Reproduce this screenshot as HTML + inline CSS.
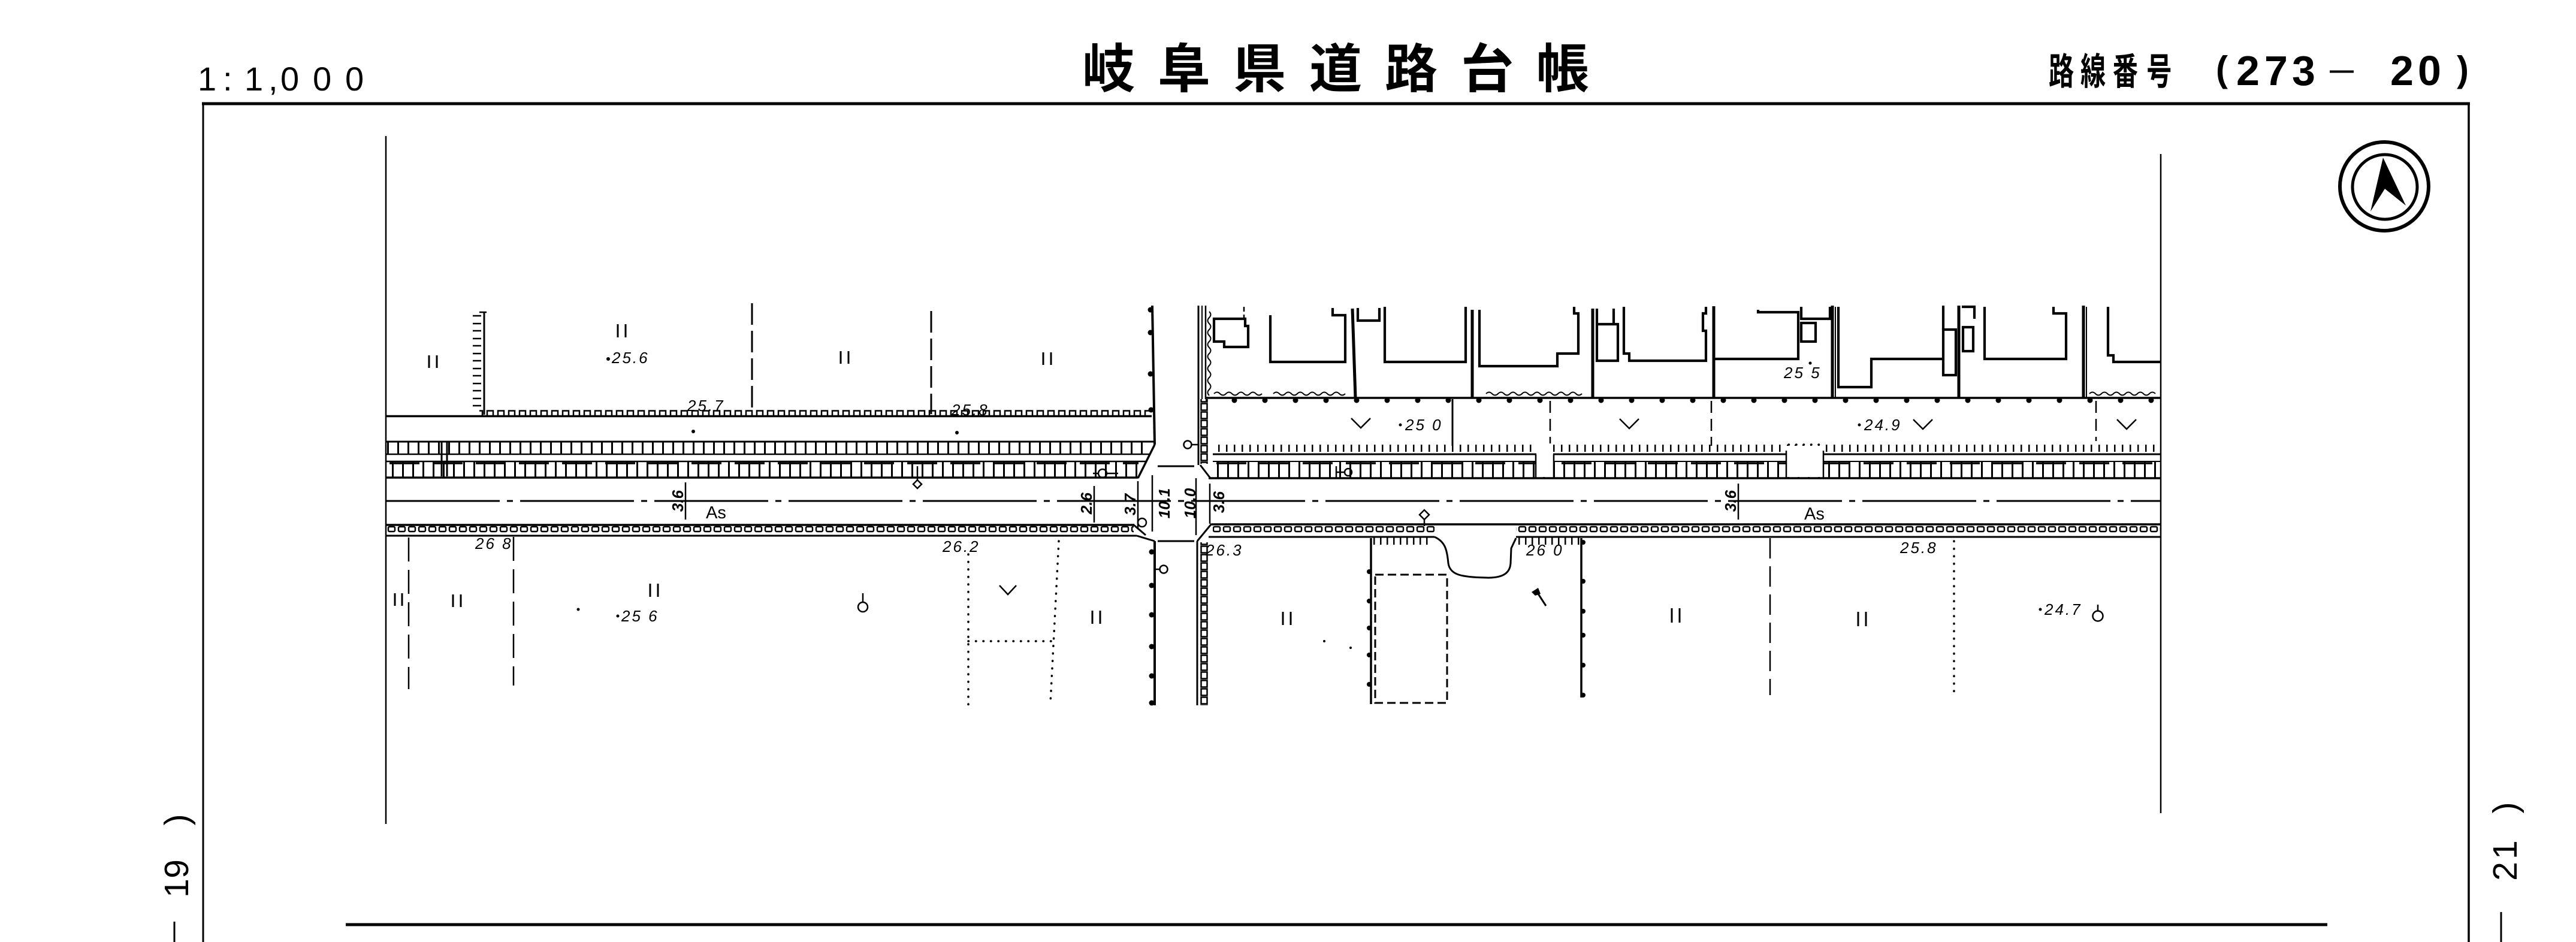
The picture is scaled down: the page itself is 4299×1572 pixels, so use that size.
<!DOCTYPE html>
<html><head><meta charset="utf-8"><title>岐阜県道路台帳</title>
<style>
html,body{margin:0;padding:0;background:#fff;width:4299px;height:1572px;overflow:hidden;}
svg{display:block;}
text{font-family:"Liberation Sans","Noto Sans CJK JP",sans-serif;fill:#000;stroke:none;}
.n{font-style:italic;font-size:26px;letter-spacing:3px;}
.d{font-style:italic;font-size:26px;font-weight:bold;}
</style></head><body>
<svg width="4299" height="1572" viewBox="0 0 4299 1572" xmlns="http://www.w3.org/2000/svg">
<defs>
 <pattern id="pA" x="0" y="737" width="17" height="21" patternUnits="userSpaceOnUse"><rect x="0" y="0" width="3" height="21" fill="#000"/></pattern>
 <pattern id="pB" x="8" y="770" width="17" height="27" patternUnits="userSpaceOnUse"><rect x="0" y="0" width="3" height="27" fill="#000"/></pattern>
 <pattern id="pC" x="0" y="877" width="17" height="13" patternUnits="userSpaceOnUse"><rect x="2" y="2" width="11" height="8" rx="2" fill="none" stroke="#000" stroke-width="2.5"/></pattern>
 <pattern id="pD" x="0" y="684" width="18" height="10" patternUnits="userSpaceOnUse"><path d="M3,10 V1.5 H13 V10" fill="none" stroke="#000" stroke-width="2.5"/></pattern>
 <pattern id="pE" x="0" y="742" width="13" height="14" patternUnits="userSpaceOnUse"><rect x="5" y="0" width="2.5" height="12" fill="#000"/></pattern>
 <pattern id="pF" x="0" y="897" width="11" height="14" patternUnits="userSpaceOnUse"><rect x="4" y="0" width="2.5" height="12" fill="#000"/></pattern>
 <pattern id="pG" x="2003" y="0" width="13" height="14" patternUnits="userSpaceOnUse"><rect x="1.5" y="1.5" width="10" height="11" fill="none" stroke="#000" stroke-width="2.5"/></pattern>
 <pattern id="pH" x="2136.5" y="664" width="51" height="10" patternUnits="userSpaceOnUse"><circle cx="25.5" cy="4" r="4.5" fill="#000"/></pattern>
</defs>

<!-- Header text -->
<text x="330 372 408 448 468 522 576" y="151" font-size="56">1:1,000</text>
<text x="1806 1932 2058 2185 2311 2438 2564" y="146" font-size="88" font-weight="bold">岐阜県道路台帳</text>
<text transform="translate(3419,141) scale(0.68,1)" x="0 78 157 240" y="0" font-size="62" font-weight="bold">路線番号</text>
<text x="3698" y="136" font-size="60" font-weight="bold">(</text>
<text x="3732 3779 3825" y="142" font-size="70" font-weight="bold">273</text>
<text x="3888" y="130" font-size="40" font-weight="bold">—</text>
<text x="3989 4035" y="142" font-size="70" font-weight="bold">20</text>
<text x="4100" y="136" font-size="60" font-weight="bold">)</text>

<!-- Frame -->
<g stroke="#000" fill="none">
 <line x1="337" y1="173" x2="4122" y2="173" stroke-width="5"/>
 <line x1="339" y1="171" x2="339" y2="1572" stroke-width="3"/>
 <line x1="4120" y1="171" x2="4120" y2="1572" stroke-width="3.5"/>
 <line x1="644" y1="227" x2="644" y2="1375" stroke-width="2.5"/>
 <line x1="3606" y1="257" x2="3606" y2="1357" stroke-width="2.5"/>
 <line x1="577" y1="1543" x2="3884" y2="1543" stroke-width="5"/>
 <line x1="291" y1="1538" x2="291" y2="1572" stroke-width="3"/>
 <line x1="4174" y1="1522" x2="4174" y2="1572" stroke-width="3"/>
</g>

<!-- Side labels (rotated) -->
<g font-size="57">
 <text transform="translate(314,1368) rotate(-90)" text-anchor="middle">)</text>
 <text transform="translate(314,1450) rotate(-90)" text-anchor="middle">9</text>
 <text transform="translate(314,1498) rotate(-90)">1</text>
 <text transform="translate(4200,1348) rotate(-90)" text-anchor="middle">)</text>
 <text transform="translate(4200,1434) rotate(-90)">1</text>
 <text transform="translate(4200,1454) rotate(-90)" text-anchor="middle">2</text>
</g>

<!-- North arrow -->
<g stroke="#000" fill="none">
 <circle cx="3979" cy="311" r="74" stroke-width="6"/>
 <circle cx="3980" cy="312" r="54" stroke-width="5"/>
</g>
<polygon points="3977,263 3956,353 3980,315 4015,343" fill="#000"/>

<!-- MAP -->
<g stroke="#000" fill="none" stroke-width="3">

 <!-- West north lots -->
 <line x1="808" y1="521" x2="808" y2="692" stroke-width="3"/>
 <path d="M800,521 h12 M789,527 h14 M789,540 h14 M789,552 h14 M789,565 h14 M789,577 h14 M789,590 h14 M789,602 h14 M789,615 h14 M789,627 h14 M789,640 h14 M789,652 h14 M789,665 h14 M789,677 h14" stroke-width="2.5"/>
 <line x1="1255" y1="506" x2="1255" y2="686" stroke-dasharray="36 10"/>
 <line x1="1554" y1="519" x2="1554" y2="691" stroke-dasharray="36 10"/>
 <line x1="644" y1="694.5" x2="1922" y2="694.5" stroke-width="3.5"/>
 <rect x="800" y="684" width="1118" height="10" fill="url(#pD)" stroke="none"/>

 <!-- West north sidewalk -->
 <rect x="644" y="737" width="1272" height="21" fill="url(#pA)" stroke="none"/>
 <rect x="644" y="770" width="1256" height="27" fill="url(#pB)" stroke="none"/>
 <line x1="644" y1="737" x2="1925" y2="737"/>
 <line x1="644" y1="758" x2="1918" y2="758" stroke-width="2.5"/>
 <line x1="644" y1="770" x2="1912" y2="770" stroke-width="2.5"/>
 <line x1="650" y1="773" x2="1900" y2="773" stroke-width="3.5" stroke-dasharray="50 22"/>
 <line x1="644" y1="797" x2="1899" y2="797" stroke-width="3.5"/>
 <line x1="737" y1="737" x2="737" y2="795"/>
 <line x1="746" y1="737" x2="746" y2="795"/>
 <line x1="1927" y1="742" x2="1899" y2="798" stroke-width="3.5"/>

 <!-- Center line -->
 <line x1="644" y1="836" x2="3606" y2="836" stroke-dasharray="190 12 10 12"/>

 <!-- West south curb -->
 <line x1="644" y1="876" x2="1893" y2="876" stroke-width="3.5"/>
 <rect x="644" y="877" width="1248" height="13" fill="url(#pC)" stroke="none"/>
 <line x1="644" y1="894" x2="1897" y2="894"/>
 <line x1="1897" y1="894" x2="1927" y2="903"/>
 <line x1="1892" y1="876" x2="1912" y2="893"/>
 <circle cx="1906" cy="872" r="7" stroke-width="2.5"/>

 <!-- Crossroad -->
 <path d="M1923,510 L1927,742" stroke-width="4"/>
 <path d="M1927,903 V1177" stroke-width="4"/>
 <g fill="#000" stroke="none">
  <circle cx="1920" cy="517" r="4.5"/><circle cx="1920" cy="555" r="4.5"/><circle cx="1920" cy="624" r="4.5"/><circle cx="1921" cy="684" r="4.5"/>
  <circle cx="1922" cy="921" r="4.5"/><circle cx="1922" cy="977" r="4.5"/><circle cx="1922" cy="1026" r="4.5"/><circle cx="1922" cy="1079" r="4.5"/><circle cx="1922" cy="1128" r="4.5"/><circle cx="1922" cy="1173" r="4.5"/>
 </g>
 <line x1="1932" y1="778" x2="1993" y2="778"/>
 <line x1="1932" y1="903" x2="1993" y2="903"/>
 <line x1="2000" y1="510" x2="2000" y2="776"/>
 <line x1="2006" y1="510" x2="2006" y2="666" stroke-width="2"/>
 <line x1="2012" y1="510" x2="2012" y2="666" stroke-width="2.5"/>
 <rect x="2003" y="666" width="13" height="108" fill="url(#pG)" stroke="none"/>
 <line x1="2003" y1="776" x2="2020" y2="798"/>
 <circle cx="1982" cy="742" r="6.5" stroke-width="2.5"/>
 <line x1="1989" y1="742" x2="2000" y2="742" stroke-width="2.5"/>
 <line x1="2022" y1="874" x2="1998" y2="903"/>
 <line x1="1998" y1="903" x2="1998" y2="1177"/>
 <rect x="2003" y="905" width="13" height="272" fill="url(#pG)" stroke="none"/>
 <circle cx="1942" cy="950" r="6.5" stroke-width="2.5"/>
 <line x1="1927" y1="950" x2="1936" y2="950" stroke-width="2.5"/>

 <!-- Dimension lines -->
 <g stroke-width="2.5">
  <line x1="1144" y1="805" x2="1144" y2="867"/>
  <line x1="1826" y1="811" x2="1826" y2="872"/>
  <line x1="1899" y1="803" x2="1899" y2="883"/>
  <line x1="1923" y1="793" x2="1923" y2="887"/>
  <line x1="1996" y1="798" x2="1996" y2="893"/>
  <line x1="2019" y1="807" x2="2019" y2="874"/>
  <line x1="2901" y1="807" x2="2901" y2="867"/>
 </g>

 <!-- Symbols west -->
 <line x1="1531" y1="778" x2="1531" y2="801" stroke-width="2.5"/>
 <path d="M1531,801 l7,7 l-7,7 l-7,-7 z" stroke-width="2.5"/>
 <circle cx="1840" cy="790" r="7" stroke-width="2.5"/>
 <line x1="1824" y1="790" x2="1833" y2="790" stroke-width="2.5"/>
 <line x1="1847" y1="790" x2="1866" y2="790" stroke-width="2.5"/>
 <circle cx="1440" cy="1013" r="8" stroke-width="2.5"/>
 <line x1="1440" y1="990" x2="1440" y2="1005" stroke-width="2.5"/>

 <!-- West south lots -->
 <line x1="682" y1="897" x2="682" y2="1150" stroke-width="2.5" stroke-dasharray="40 14"/>
 <line x1="857" y1="896" x2="857" y2="1144" stroke-width="2.5" stroke-dasharray="40 14"/>
 <g stroke-width="3.5" stroke-linecap="round" stroke-dasharray="0.5 12">
  <line x1="1616" y1="925" x2="1616" y2="1177"/>
  <line x1="1767" y1="903" x2="1753" y2="1173"/>
  <line x1="1616" y1="1070" x2="1755" y2="1070"/>
  <line x1="3261" y1="903" x2="3261" y2="1160"/>
  <line x1="2985" y1="742" x2="3040" y2="742"/>
 </g>
 <path d="M1668,977 L1682,992 L1696,977" stroke-width="2.5"/>

 <!-- "||" marks -->
 <path stroke-width="3" d="M716,593 v21 M729,593 v21 M1031,541 v22 M1044,541 v22 M1403,586 v21 M1416,586 v21 M1741,588 v21 M1754,588 v21 M659,990 v21 M671,990 v21 M756,992 v21 M769,992 v21 M1085,974 v22 M1098,974 v22 M1823,1019 v22 M1836,1019 v22 M2141,1021 v22 M2154,1021 v22 M2790,1015 v24 M2803,1015 v24 M3101,1021 v24 M3114,1021 v24"/>

 <!-- East north lots: buildings -->
 <g stroke-width="4.2">
  <path d="M2026,532 H2078 V544 H2083 V579 H2043 V570 H2026 Z"/>
  <path d="M2120,526 V604 H2245 V526 H2224 V514"/>
  <path d="M2266,514 V535 H2302 V514"/>
  <path d="M2311,512 V604 H2446 V512"/>
  <path d="M2469,517 V611 H2599 V590 H2634 V523 H2627 V512"/>
  <path d="M2665,515 V602 H2700 V541 H2665 M2693,515 V541"/>
  <path d="M2710,512 V590 H2719 V602 H2847 V552 H2842 V523 H2847 V512"/>
  <path d="M2934,517 V521 H3001 V599 H2862"/>
  <path d="M3006,512 V532 H3054 V512"/>
  <rect x="3006" y="539" width="24" height="31"/>
  <path d="M3068,512 V646 H3123 V599 H3243"/>
  <rect x="3243" y="550" width="21" height="76"/>
  <path d="M3243,510 V550"/>
  <path d="M3274,512 H3295 V532"/>
  <rect x="3276" y="546" width="17" height="40"/>
  <path d="M3312,512 V599 H3448 V523 H3427 V512"/>
  <path d="M3518,512 V593 H3527 V604 H3606"/>
 </g>
 <line x1="2076" y1="512" x2="2076" y2="532" stroke-width="2.5" stroke-dasharray="8 5"/>
 <g stroke-width="5">
  <line x1="2257" y1="515" x2="2262" y2="664"/>
  <line x1="2457" y1="517" x2="2457" y2="664"/>
  <line x1="2658" y1="515" x2="2658" y2="664"/>
  <line x1="2860" y1="511" x2="2860" y2="664"/>
  <line x1="3058" y1="510" x2="3058" y2="664"/>
  <line x1="3269" y1="510" x2="3269" y2="664"/>
  <line x1="3477" y1="510" x2="3477" y2="664"/>
 </g>
 <line x1="3063" y1="512" x2="3063" y2="664" stroke-width="2"/>
 <line x1="3482" y1="512" x2="3482" y2="664" stroke-width="2"/>
 <g stroke-width="2">
  <path d="M2026,657 q5,-5 10,0 t10,0 t10,0 t10,0 t10,0 t10,0 t10,0 t10,0"/>
  <path d="M2125,657 q5,-5 10,0 t10,0 t10,0 t10,0 t10,0 t10,0 t10,0 t10,0 t10,0 t10,0 t10,0 t10,0"/>
  <path d="M2480,657 q5,-5 10,0 t10,0 t10,0 t10,0 t10,0 t10,0 t10,0 t10,0 t10,0 t10,0 t10,0 t10,0 t10,0 t10,0 t10,0 t10,0"/>
  <path d="M3487,657 q5,-5 10,0 t10,0 t10,0 t10,0 t10,0 t10,0 t10,0 t10,0 t10,0 t10,0 t10,0"/>
  <path d="M2018,520 q5,5 0,10 t0,10 t0,10 t0,10 t0,10 t0,10 t0,10 t0,10 t0,10 t0,10 t0,10 t0,10 t0,10 t0,10"/>
 </g>
 <line x1="2012" y1="664" x2="3606" y2="664" stroke-width="3.5"/>
 <rect x="2012" y="664" width="1594" height="10" fill="url(#pH)" stroke="none"/>

 <!-- Lot area east -->
 <line x1="2424" y1="666" x2="2424" y2="744"/>
 <g stroke-width="2.5" stroke-dasharray="20 10">
  <line x1="2587" y1="669" x2="2587" y2="744"/>
  <line x1="2856" y1="669" x2="2856" y2="744"/>
  <line x1="3498" y1="669" x2="3498" y2="736"/>
 </g>
 <g stroke-width="2.5">
  <path d="M2255,698 L2271,714 L2287,698"/>
  <path d="M2703,699 L2719,715 L2735,699"/>
  <path d="M3193,700 L3209,716 L3225,700"/>
  <path d="M3533,700 L3549,716 L3565,700"/>
 </g>

 <!-- East north sidewalk -->
 <rect x="2024" y="742" width="1582" height="14" fill="url(#pE)" stroke="none"/>
 <rect x="2020" y="770" width="1586" height="27" fill="url(#pB)" stroke="none"/>
 <line x1="2024" y1="758" x2="3606" y2="758"/>
 <line x1="2024" y1="770" x2="3606" y2="770" stroke-width="2"/>
 <line x1="2030" y1="773" x2="3606" y2="773" stroke-width="3.5" stroke-dasharray="50 22"/>
 <line x1="2017" y1="798" x2="3606" y2="798" stroke-width="3.5"/>
 <rect x="2564" y="740" width="28" height="56" fill="#fff" stroke="none"/>
 <rect x="2982" y="744" width="60" height="52" fill="#fff" stroke="none"/>
 <line x1="2563" y1="758" x2="2563" y2="797" stroke-width="2.5"/>
 <line x1="2593" y1="758" x2="2593" y2="797" stroke-width="2.5"/>
 <line x1="2981" y1="752" x2="2981" y2="797" stroke-width="2.5"/>
 <line x1="3043" y1="752" x2="3043" y2="797" stroke-width="2.5"/>
 <circle cx="2250" cy="788" r="6" stroke-width="2.5"/>
 <line x1="2230" y1="788" x2="2244" y2="788" stroke-width="2.5"/>
 <line x1="2230" y1="778" x2="2230" y2="797" stroke-width="2.5"/>

 <!-- East south curb -->
 <line x1="2022" y1="875" x2="3606" y2="875" stroke-width="3.5"/>
 <rect x="2024" y="877" width="370" height="13" fill="url(#pC)" stroke="none"/>
 <rect x="2530" y="877" width="1076" height="13" fill="url(#pC)" stroke="none"/>
 <line x1="2017" y1="896" x2="2394" y2="896"/>
 <line x1="2530" y1="896" x2="3606" y2="896"/>
 <path d="M2394,896 C2412,904 2415,918 2417,940 C2420,960 2440,963 2480,964 C2510,965 2520,955 2521,940 L2522,915 L2530,898"/>
 <rect x="2288" y="897" width="103" height="13" fill="url(#pF)" stroke="none"/>
 <rect x="2526" y="897" width="113" height="13" fill="url(#pF)" stroke="none"/>
 <line x1="2377" y1="867" x2="2377" y2="878" stroke-width="2.5"/>
 <path d="M2377,851 l8,8 l-8,8 l-8,-8 z" stroke-width="2.5"/>

 <!-- East south lots -->
 <line x1="2288" y1="898" x2="2288" y2="1175" stroke-width="3.5"/>
 <rect x="2295" y="959" width="120" height="214" stroke-dasharray="14 7"/>
 <line x1="2639" y1="898" x2="2639" y2="1164" stroke-width="3.5"/>
 <g fill="#000" stroke="none">
  <circle cx="2285" cy="954" r="4"/><circle cx="2285" cy="1003" r="4"/><circle cx="2285" cy="1048" r="4"/><circle cx="2285" cy="1093" r="4"/><circle cx="2285" cy="1142" r="4"/>
  <circle cx="2642" cy="905" r="4"/><circle cx="2642" cy="970" r="4"/><circle cx="2642" cy="1020" r="4"/><circle cx="2642" cy="1060" r="4"/><circle cx="2642" cy="1110" r="4"/><circle cx="2642" cy="1160" r="4"/>
  <path d="M2556,988 L2567,981 L2571,991 L2562,994 Z"/>
  <circle cx="1157" cy="720" r="3"/><circle cx="1597" cy="722" r="3"/>
  <circle cx="965" cy="1017" r="2.5"/><circle cx="2210" cy="1070" r="2"/><circle cx="2254" cy="1081" r="2"/>
 </g>
 <line x1="2565" y1="988" x2="2580" y2="1011" stroke-width="3"/>
 <line x1="2954" y1="898" x2="2954" y2="1160" stroke-width="2.5" stroke-dasharray="34 13"/>
 <circle cx="3501" cy="1028" r="8.5" stroke-width="2.5"/>
 <line x1="3501" y1="1009" x2="3501" y2="1019" stroke-width="2.5"/>
</g>

<!-- Map labels -->
<g>
 <circle cx="1015" cy="599" r="3" fill="#000"/>
 <text class="n" x="1021" y="606">25.6</text>
 <text class="n" x="1147" y="686">25.7</text>
 <text class="n" x="1588" y="693">25.8</text>
 <text class="n" x="793" y="916">26 8</text>
 <circle cx="1031" cy="1028" r="2.5" fill="#000"/>
 <text class="n" x="1037" y="1037">25 6</text>
 <text class="n" x="1573" y="921">26.2</text>
 <text class="n" x="2012" y="927">26.3</text>
 <text class="n" x="2547" y="927">26 0</text>
 <text class="n" x="3171" y="923">25.8</text>
 <circle cx="3405" cy="1017" r="2.5" fill="#000"/>
 <text class="n" x="3412" y="1026">24.7</text>
 <circle cx="2337" cy="709" r="2.5" fill="#000"/>
 <text class="n" x="2345" y="718">25 0</text>
 <circle cx="3103" cy="709" r="2.5" fill="#000"/>
 <text class="n" x="3111" y="718">24.9</text>
 <text class="n" x="2977" y="631">25 5</text>
 <circle cx="3021" cy="606" r="2.5" fill="#000"/>
 <text x="1178" y="865" font-size="29">As</text>
 <text x="3011" y="867" font-size="29">As</text>
 <text class="d" transform="translate(1140,836) rotate(-90)" text-anchor="middle">3.6</text>
 <text class="d" transform="translate(1822,840) rotate(-90)" text-anchor="middle">2.6</text>
 <text class="d" transform="translate(1895,842) rotate(-90)" text-anchor="middle">3.7</text>
 <text class="d" transform="translate(1952,840) rotate(-90)" text-anchor="middle">10.1</text>
 <text class="d" transform="translate(1995,840) rotate(-90)" text-anchor="middle">10.0</text>
 <text class="d" transform="translate(2043,838) rotate(-90)" text-anchor="middle">3.6</text>
 <text class="d" transform="translate(2897,836) rotate(-90)" text-anchor="middle">3.6</text>
</g>
</svg>
</body></html>
